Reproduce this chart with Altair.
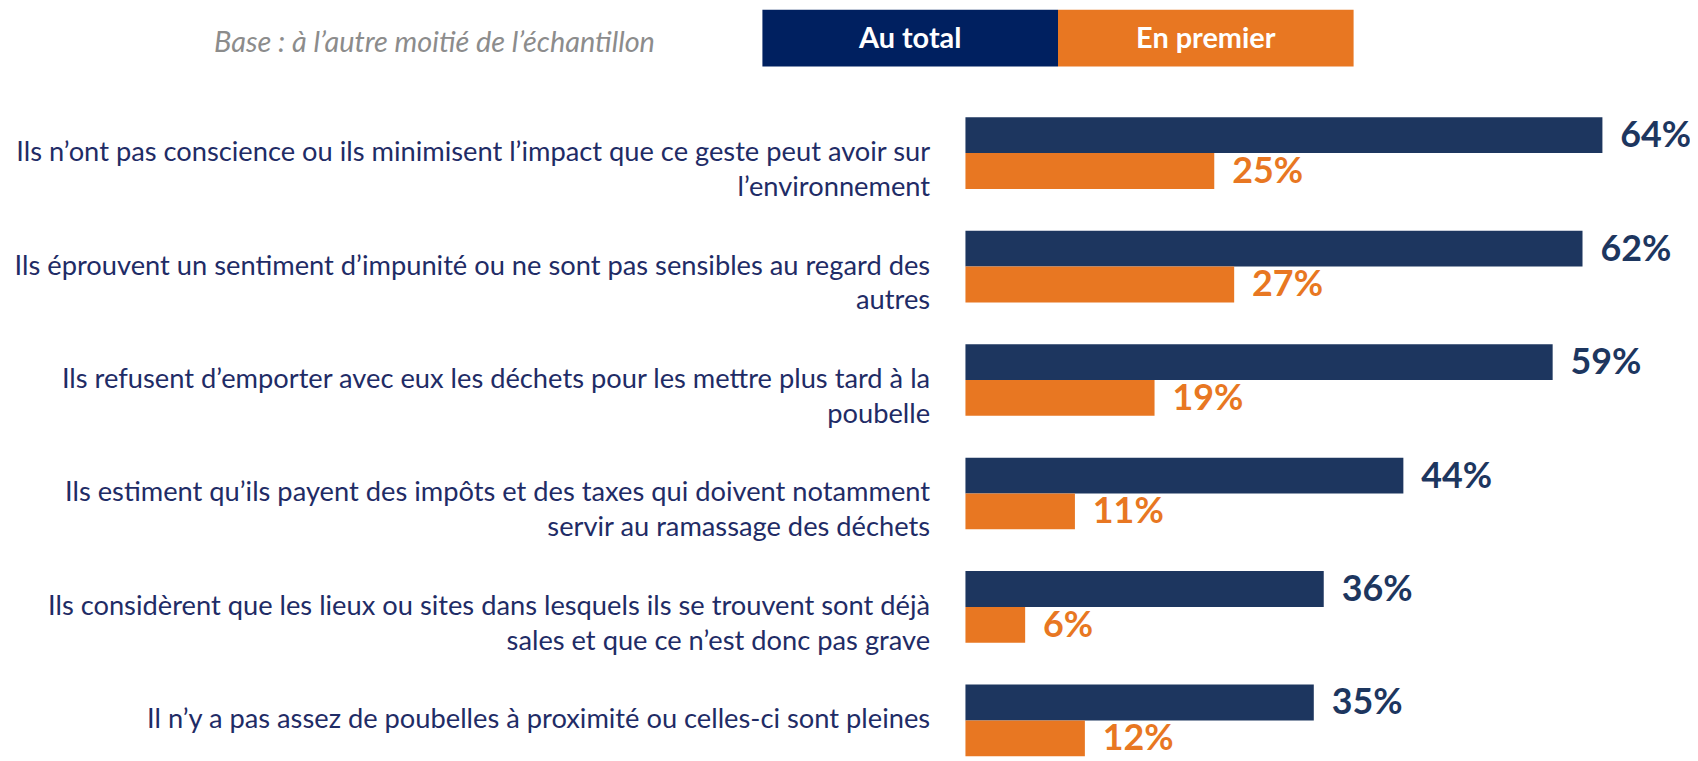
import altair as alt
import pandas as pd

categories = [
    "Ils n’ont pas conscience ou ils minimisent l’impact que ce geste peut avoir sur\nl’environnement",
    "Ils éprouvent un sentiment d’impunité ou ne sont pas sensibles au regard des\nautres",
    "Ils refusent d’emporter avec eux les déchets pour les mettre plus tard à la\npoubelle",
    "Ils estiment qu’ils payent des impôts et des taxes qui doivent notamment\nservir au ramassage des déchets",
    "Ils considèrent que les lieux ou sites dans lesquels ils se trouvent sont déjà\nsales et que ce n’est donc pas grave",
    "Il n’y a pas assez de poubelles à proximité ou celles-ci sont pleines",
]
series = ["Au total", "En premier"]
au_total = [64, 62, 59, 44, 36, 35]
en_premier = [25, 27, 19, 11, 6, 12]
base_note = "Base : à l’autre moitié de l’échantillon"

bar_colors = ["#1D365F", "#E87722"]
legend_colors = ["#002060", "#E87722"]
label_color = "#1F2C66"
FONT = "Lato"

rows = []
for c, a, p in zip(categories, au_total, en_premier):
    rows.append({"cat": c, "series": series[0], "value": a})
    rows.append({"cat": c, "series": series[1], "value": p})
df = pd.DataFrame(rows)
df["label"] = df["value"].astype(str) + "%"

y_enc = alt.Y(
    "cat:N",
    sort=categories,
    scale=alt.Scale(paddingInner=42 / 114, paddingOuter=0, range=[0, 642]),
    axis=alt.Axis(
        title=None, domain=False, ticks=False, labelPadding=36,
        labelFont=FONT, labelFontSize=27.4, labelColor=label_color,
        labelAlign="right", labelBaseline="middle", labelLimit=2000,
        labelLineHeight=35, labelExpr="split(datum.label, '\\n')",
    ),
)
yoff = alt.YOffset("series:N", sort=series, scale=alt.Scale(paddingInner=0, paddingOuter=0))
x_enc = alt.X("value:Q", scale=alt.Scale(domain=[0, 72]), axis=None)
color_enc = alt.Color("series:N", scale=alt.Scale(domain=series, range=bar_colors), legend=None)

base = alt.Chart(df)
bars = base.mark_bar().encode(x=x_enc, y=y_enc, yOffset=yoff, color=color_enc)
labels = base.mark_text(
    align="left", baseline="middle", dx=18, dy=1, font=FONT, fontSize=36, fontWeight="bold"
).encode(x=x_enc, y=y_enc, yOffset=yoff, color=color_enc, text="label:N")
main = alt.layer(bars, labels)

leg_df = pd.DataFrame({"series": series})
leg_x = alt.X("series:N", sort=series,
              scale=alt.Scale(range=[-204, 390], paddingInner=0, paddingOuter=0), axis=None)
leg_color = alt.Color("series:N", scale=alt.Scale(domain=series, range=legend_colors), legend=None)
leg_rect = alt.Chart(leg_df).mark_rect().encode(
    x=leg_x, y=alt.value(-108), y2=alt.value(-51), color=leg_color
)
leg_text = alt.Chart(leg_df).mark_text(
    font=FONT, fontSize=29, fontWeight="bold", color="white", baseline="middle"
).encode(x=leg_x, y=alt.value(-79), text="series:N")
note = alt.Chart(pd.DataFrame({"t": [base_note]})).mark_text(
    font=FONT, fontSize=29, fontStyle="italic", color="#8C8C8C", align="right", baseline="middle"
).encode(x=alt.value(-312), y=alt.value(-75), text="t:N")
legend = alt.layer(leg_rect, leg_text, note)

chart = alt.layer(main, legend).resolve_scale(
    x="independent", color="independent"
).properties(
    width=720, height=645,
    autosize=alt.AutoSizeParams(type="none"),
    padding={"left": 962, "top": 108, "right": 8, "bottom": 0},
).configure_view(stroke=None)

chart.save("out.html", embed_options={"renderer": "svg", "actions": False})
